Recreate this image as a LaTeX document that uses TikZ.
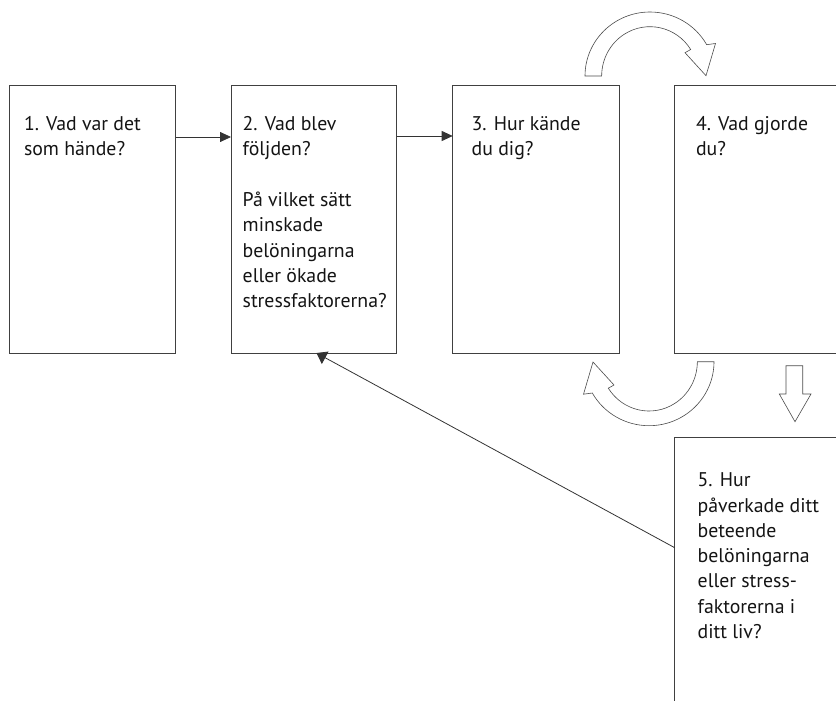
\documentclass[tikz,border=0pt]{standalone}
\usepackage{fontspec}
\setmainfont{PT Sans}
\usetikzlibrary{arrows.meta}
\begin{document}
\begin{tikzpicture}[x=1pt,y=-1pt,
  box/.style={draw=black!75, line width=1pt, fill=white, inner sep=0pt, outer sep=0pt, anchor=north west, minimum height=267pt},
  txt/.style={anchor=base west, inner sep=0pt, outer sep=0pt, text=black!92, font=\fontsize{19.8}{25.3}\selectfont},
  conn/.style={draw=black!80, line width=0.8pt, -{Triangle[length=11pt,width=10pt]}},
  blockarrow/.style={draw=black!70, line width=0.6pt, fill=white, line join=miter}
]
\useasboundingbox (0,0) rectangle (836,701);
\clip (0,0) rectangle (836,701);

% boxes
\node[box, minimum width=166.7pt] (b1) at (9,86) {};
\node[box, minimum width=165.7pt] (b2) at (231,86) {};
\node[box, minimum width=166.3pt] (b3) at (452.7,86) {};
\node[box, minimum width=166pt] (b4) at (674.7,86) {};
\node[box, minimum width=166pt] (b5) at (674.7,437) {};

% texts
\node[txt] (t1) at (24,130) {\parbox[t]{150pt}{\raggedright 1. Vad var det\\som hände?}};
\node[txt] (t2) at (242.7,130.7) {\parbox[t]{155pt}{\raggedright 2. Vad blev\\följden?\\[25.3pt]På vilket sätt\\minskade\\belöningarna\\eller ökade\\stressfaktorerna?}};
\node[txt] (t3) at (471.7,130) {\parbox[t]{140pt}{\raggedright 3. Hur kände\\du dig?}};
\node[txt] (t4) at (696,130) {\parbox[t]{140pt}{\raggedright 4. Vad gjorde\\du?}};
\node[txt] (t5) at (697.7,486.7) {\parbox[t]{140pt}{\raggedright 5. Hur\\påverkade ditt\\beteende\\belöningarna\\eller stress-\\faktorerna i\\ditt liv?}};

% connectors
\draw[conn] ([yshift=-51pt]b1.north east) -- ([yshift=-51pt]b2.north west);
\draw[conn] ([yshift=-50pt]b2.north east) -- ([yshift=-50pt]b3.north west);
\coordinate (c5) at ([yshift=-110.7pt]b5.north west);
\coordinate (c2) at ([xshift=2.6pt]b2.south);
\draw[conn, -{Triangle[length=10pt,width=14pt]}] (c5) -- (c2);

% curved block arrows
\def\curvedarrowpath{(585,76) arc[start angle=180, end angle=29.3, x radius=65pt, y radius=64pt]
  -- (715.5,43.5) -- (706,75.7) -- (685,52.7) -- (690.7,49.5)
  arc[start angle=32.5, end angle=180, x radius=48.3pt, y radius=49.3pt] -- cycle}
\path[blockarrow] \curvedarrowpath;
\path[blockarrow, rotate around={180:(649.5,218.85)}] \curvedarrowpath;

% down block arrow
\path[blockarrow] (786,365.7) -- (802.7,365.7) -- (802.7,394) -- (811,394) -- (795,421.7) -- (779.3,394) -- (786,394) -- cycle;
\end{tikzpicture}
\end{document}
